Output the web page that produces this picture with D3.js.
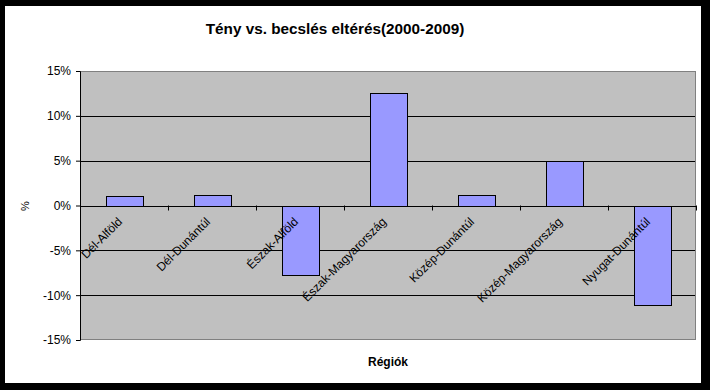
<!DOCTYPE html>
<html>
<head>
<meta charset="utf-8">
<script src="https://cdn.jsdelivr.net/npm/d3@7"></script>
<style>
  body { margin: 0; background: #fff; }
  text { font-family: "Liberation Sans", Arial, sans-serif; }
</style>
</head>
<body>
<div id="wrapper"></div>
<script>
// data
const regions = ["Dél-Alföld", "Dél-Dunántúl", "Észak-Alföld", "Észak-Magyarország",
                 "Közép-Dunántúl", "Közép-Magyarország", "Nyugat-Dunántúl"];
const deviation = [1.1, 1.2, -7.7, 12.6, 1.2, 5.0, -11.0];
const yTicks = [-15, -10, -5, 0, 5, 10, 15];

const W = 710, H = 390;
const margin = {top: 71, right: 14, bottom: 50, left: 80},
    width = W - margin.left - margin.right,
    height = H - margin.top - margin.bottom;

const svg = d3.select("#wrapper")
  .append("svg")
    .attr("width", W)
    .attr("height", H);

// black frame around the chart
svg.append("rect").attr("x", 0).attr("y", 0).attr("width", W).attr("height", H).attr("fill", "#000");
svg.append("rect").attr("x", 5).attr("y", 6).attr("width", 696).attr("height", 377).attr("fill", "#fff");

// title
svg.append("text")
  .attr("x", 335).attr("y", 34)
  .attr("text-anchor", "middle")
  .attr("font-size", 15.3)
  .attr("font-weight", "bold")
  .text("Tény vs. becslés eltérés(2000-2009)");

const g = svg.append("g")
  .attr("transform", `translate(${margin.left},${margin.top})`);

// scales
const x = d3.scaleBand()
  .domain(regions)
  .range([0, width])
  .paddingInner(0.583)
  .paddingOuter(0.29);
const xc = d3.scaleBand().domain(regions).range([0, width]);

const y = d3.scaleLinear()
  .domain([-15, 15])
  .range([height, 0]);

// plot background
g.append("rect")
  .attr("width", width).attr("height", height)
  .attr("fill", "#c0c0c0");

// gridlines
g.selectAll(".grid")
  .data(yTicks.filter(d => d !== 15 && d !== -15))
  .join("line")
    .attr("x1", 0).attr("x2", width)
    .attr("y1", d => Math.round(y(d)) + 0.5).attr("y2", d => Math.round(y(d)) + 0.5)
    .attr("stroke", "#000");

// plot border
g.append("rect")
  .attr("x", 0.5).attr("y", 0.5)
  .attr("width", width - 1).attr("height", height - 1)
  .attr("fill", "none").attr("stroke", "#808080");

// bars
g.selectAll(".bar")
  .data(deviation)
  .join("rect")
    .attr("x", (d, i) => Math.round(x(regions[i])) + 0.5)
    .attr("width", Math.round(x.bandwidth()))
    .attr("y", d => Math.round(y(Math.max(0, d))) + 0.5)
    .attr("height", d => Math.round(Math.abs(y(d) - y(0))))
    .attr("fill", "#9999ff")
    .attr("stroke", "#000");

// y axis
const yAxis = g.append("g")
  .call(d3.axisLeft(y).tickValues(yTicks).tickFormat(d => d + "%").tickSize(4).tickPadding(5));
yAxis.select(".domain").attr("stroke", "#000");
yAxis.selectAll("text").attr("font-size", 12).attr("font-family", "Liberation Sans, Arial, sans-serif").attr("fill", "#000");

// x axis on the zero line
const zeroY = Math.round(y(0));
const xAxis = g.append("g")
  .attr("transform", `translate(0,${zeroY + 0.5})`);
xAxis.append("line")
  .attr("x1", 0).attr("x2", width)
  .attr("stroke", "#000");
xAxis.selectAll(".tick")
  .data(regions.slice(1).concat(["end"]))
  .join("line")
    .attr("x1", (d, i) => Math.round(xc.step() * (i + 1)) + 0.5)
    .attr("x2", (d, i) => Math.round(xc.step() * (i + 1)) + 0.5)
    .attr("y1", -1).attr("y2", 4)
    .attr("stroke", "#000");

xAxis.selectAll(".lbl")
  .data(regions)
  .join("text")
    .attr("transform", d => `translate(${xc(d) + xc.bandwidth() / 2 - 1},${16}) rotate(-45)`)
    .attr("text-anchor", "end")
    .attr("font-size", 12)
    .text(d => d);

// axis titles
svg.append("text")
  .attr("x", margin.left + width / 2).attr("y", 366)
  .attr("text-anchor", "middle")
  .attr("font-size", 12)
  .attr("font-weight", "bold")
  .text("Régiók");

svg.append("text")
  .attr("transform", `translate(29,${margin.top + zeroY}) rotate(-90)`)
  .attr("text-anchor", "middle")
  .attr("font-size", 11)
  .text("%");
</script>
</body>
</html>
